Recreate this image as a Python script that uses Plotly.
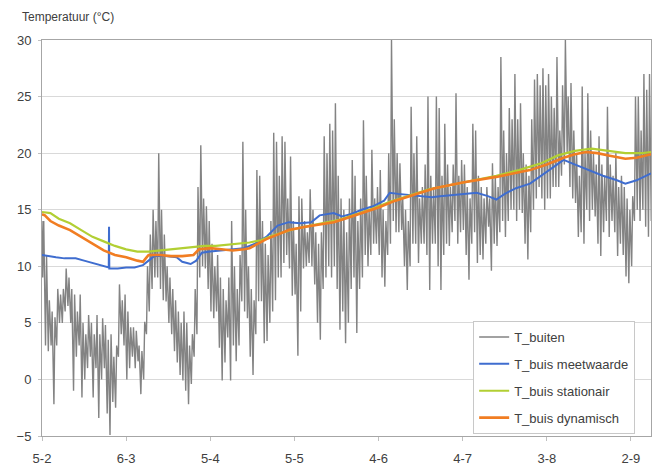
import pandas as pd
import plotly.graph_objects as go

# ---------------- data ----------------
start_date = "2008-02-05"
end_day = 217.15

# T_buiten: daily max / min (day index 0 = 5-2)
t_buiten_max = [
    14, 11, 7, 6, 5.5, 8, 7.5, 8, 9.8, 9,
    8, 7.5, 6, 7.5, 5, 4, 5.7, 5, 4, 5.7,
    4, 5.4, 4.8, 3.5, 4, 2, 3, 8.4, 7, 7.5,
    6, 4.6, 4.6, 4.3, 3, 2.5, 5.1, 10, 12.8, 15,
    14, 20, 15, 12.8, 10, 9, 8, 7, 6, 5,
    6, 5, 3, 4, 8, 17, 20.7, 16, 15.3, 14,
    12, 10, 11, 9, 8, 7, 9, 14, 10, 8,
    11, 21, 15, 10, 8, 7, 18.5, 18, 14, 12,
    11, 14, 21.8, 21, 18, 21.5, 21, 16, 19.7, 14,
    12, 16.2, 16, 14, 13, 16.8, 15, 13, 12, 13,
    21.5, 20, 22.6, 22, 24.4, 18, 16, 15, 13, 16,
    19.4, 18, 14, 16, 22.9, 18, 15, 20.3, 16, 17,
    18.5, 15, 14, 20, 30, 23, 20, 19.1, 16, 15,
    14, 24.1, 20, 21.5, 16, 17, 19, 25, 18, 17,
    25, 24, 18, 22.6, 19, 17, 19, 25.3, 18, 19.4,
    19, 17, 16, 22.6, 22, 18, 17, 16, 17, 16,
    19.1, 18, 17, 28.5, 22, 20, 24, 23, 27, 23,
    24.4, 20, 19, 18, 23, 26.5, 27, 26, 27.5, 26,
    27, 25, 24, 28.5, 22, 26, 30, 25, 26.2, 22,
    20, 18, 25.9, 20, 25.3, 22, 20, 19, 21.5, 19,
    18, 24.1, 19, 18, 20, 17, 18, 17, 16, 15,
    16.2, 25, 25, 22, 27, 25.6, 27, 24,
]
t_buiten_min = [
    9, 3, 2.5, 3, -2.2, 3, 5, 5, 6, 6.5,
    5, -1, 2, 3, -1.6, 0, 1, 2, -1.6, 1,
    -3.4, 0, 1, -3, -4.9, -2, -2.5, 2, 4, 3,
    0, 1, 2, 1, 1.6, -1.3, 0, 4, 6, 8,
    9, 9, 8, 7, 6.9, 5, 4, 2.5, 1.5, 0.4,
    -0.1, -1, -2.2, -0.4, 2, 4, 9, 10, 9.8, 8,
    6, 5.4, 6, 2.8, -0.1, 1.5, 3.7, -0.1, 3, 1.6,
    3, 6.9, 6, 5.4, 2, 0.4, 4, 6.9, 6.9, 3.2,
    3.4, 5, 6, 7, 9, 9, 10.3, 11, 9.8, 7.4,
    7.5, 2.1, 6, 9.8, 10, 10.3, 10, 8.4, 5, 3.5,
    8, 9, 10, 9, 10, 8, 4.4, 6, 3.2, 5,
    8, 9, 4.1, 8, 9, 11, 10, 11, 12, 12,
    11, 9, 8.2, 11, 12, 14, 13, 13, 13.2, 10,
    7.9, 10, 12, 12, 10.3, 12, 12, 11, 7.9, 12,
    12, 10, 7.9, 11, 12, 11.8, 13, 14, 12, 13,
    13.2, 11, 8.8, 12, 13, 10.3, 11, 10.6, 12, 13.5,
    9.6, 12, 11.8, 13, 14, 12.6, 14, 15, 15, 14,
    15, 14.7, 12, 10.6, 13, 15, 16, 17, 16, 15,
    16, 16, 17, 17, 17, 18, 19, 20, 17, 16,
    15.6, 12.6, 13, 12, 15, 14, 15, 14.4, 12, 10.9,
    13, 14, 12.6, 14, 13, 10.9, 12, 11, 9.1, 8.5,
    10, 14, 15, 14, 15, 13.5, 12.6, 14,
]
min_time_of_day = 0.25
max_time_of_day = 0.62

# T_buis meetwaarde
meet_days = [0, 2, 5, 8, 12, 15, 18, 21, 23.8, 23.9, 24.0, 27, 30, 33, 36, 38, 40, 44, 48,
             50, 53, 55, 57, 60, 64, 68, 72, 76, 80, 84, 88, 92, 96, 99, 104, 107, 110, 114, 118,
             122, 124, 127, 131, 135, 139, 142, 146, 150, 155, 159, 162, 165, 169, 174, 178, 182,
             186, 189, 192, 195, 200, 205, 208, 212, 216, 217.15]
meet_vals = [11.0, 10.9, 10.8, 10.7, 10.7, 10.5, 10.3, 10.1, 9.9, 13.5, 9.8, 9.8, 9.9, 9.9, 10.1, 10.5, 10.9, 10.9, 10.8,
             10.4, 10.2, 10.5, 11.2, 11.3, 11.4, 11.5, 11.6, 12.0, 12.6, 13.6, 13.9, 13.8, 13.9, 14.5, 14.7, 14.4, 14.6, 15.0, 15.3,
             15.8, 16.5, 16.4, 16.3, 16.2, 16.1, 16.2, 16.3, 16.4, 16.5, 16.2, 15.9, 16.4, 16.9, 17.3, 18.0, 18.7,
             19.4, 19.1, 18.8, 18.5, 18.0, 17.6, 17.3, 17.6, 18.1, 18.2]

# T_buis stationair
stat_days = [0, 3, 6, 10, 14, 18, 22, 26, 30, 34, 38, 42, 46, 50, 54, 58, 62, 66, 70, 74, 78, 82, 86,
             90, 94, 100, 106, 112, 118, 124, 130, 138, 146, 154, 162, 170, 178, 184, 190, 196, 202,
             208, 214, 217.15]
stat_vals = [14.8, 14.7, 14.2, 13.8, 13.2, 12.6, 12.2, 11.8, 11.5, 11.3, 11.3, 11.4, 11.5, 11.6, 11.7, 11.8, 11.8, 11.9, 12.0, 12.1, 12.3, 12.7, 13.0,
             13.3, 13.5, 13.8, 14.1, 14.6, 15.1, 15.7, 16.2, 16.8, 17.2, 17.6, 18.0, 18.5, 19.1, 19.8, 20.2, 20.4, 20.2,
             20.0, 20.0, 20.1]

# T_buis dynamisch
dyn_days = [0, 1, 3, 6, 10, 14, 18, 22, 26, 30, 34, 36, 37, 38, 42, 46, 50, 54, 56, 60, 64, 68, 72, 74,
            77, 80, 84, 88, 94, 100, 104, 108, 114, 120, 126, 132, 140, 150, 162, 174, 180, 186, 190,
            194, 198, 202, 208, 212, 216, 217.15]
dyn_vals = [14.6, 14.5, 14.0, 13.6, 13.2, 12.6, 12.0, 11.4, 11.0, 10.8, 10.5, 10.4, 10.7, 11.0, 11.0, 10.9, 10.9, 11.0, 11.5, 11.6, 11.5, 11.4, 11.5, 11.6,
            12.0, 12.4, 12.8, 13.2, 13.5, 13.7, 13.9, 14.2, 14.7, 15.2, 15.8, 16.3, 16.9, 17.4, 17.9, 18.5, 19.0, 19.6, 19.9,
            20.1, 20.0, 19.8, 19.5, 19.6, 19.8, 19.9]

y_ticks = [-5, 0, 5, 10, 15, 20, 25, 30]

# ---------------- build ----------------
base = pd.Timestamp(start_date)


def to_time(days):
    return [base + pd.Timedelta(days=d) for d in days]


buiten_t, buiten_v = [], []
for i, (mx, mn) in enumerate(zip(t_buiten_max, t_buiten_min)):
    buiten_t += [base + pd.Timedelta(days=i + min_time_of_day), base + pd.Timedelta(days=i + max_time_of_day)]
    buiten_v += [mn, mx]
buiten_t = [base] + buiten_t
buiten_v = [t_buiten_max[0]] + buiten_v

FONT = "Liberation Sans, Arial, sans-serif"
TXT = "#404040"

fig = go.Figure()
fig.add_trace(go.Scatter(x=buiten_t, y=buiten_v, mode="lines", name="T_buiten",
                         line=dict(color="#838383", width=1.4), legendgroup="a"))
fig.add_trace(go.Scatter(x=to_time(meet_days), y=meet_vals, mode="lines", name="T_buis meetwaarde",
                         line=dict(color="#3f6dcf", width=2), legendgroup="b"))
fig.add_trace(go.Scatter(x=to_time(stat_days), y=stat_vals, mode="lines", name="T_buis stationair",
                         line=dict(color="#b2cf33", width=2.2), legendgroup="c"))
fig.add_trace(go.Scatter(x=to_time(dyn_days), y=dyn_vals, mode="lines", name="T_buis dynamisch",
                         line=dict(color="#f17d22", width=2.6), legendgroup="d"))

fig.update_layout(
    width=659, height=468,
    margin=dict(l=42, r=8, t=40, b=32, autoexpand=False),
    paper_bgcolor="white", plot_bgcolor="white",
    font=dict(family=FONT, size=13, color=TXT),
    showlegend=True,
    legend=dict(x=0.974, xanchor="right", y=0.005, yanchor="bottom",
                bgcolor="white", bordercolor="#c8c8c8", borderwidth=1,
                font=dict(family=FONT, size=13, color=TXT),
                traceorder="grouped", tracegroupgap=7),
    annotations=[dict(text="Temperatuur (°C)", xref="paper", yref="paper",
                      x=-0.036, y=1.057, xanchor="left", yanchor="middle",
                      showarrow=False, font=dict(family=FONT, size=12, color=TXT))],
)
fig.update_xaxes(
    type="date", automargin=False,
    range=[base, base + pd.Timedelta(days=end_day)],
    tick0=base, dtick=30 * 86400000, tickformat="%-d-%-m",
    showgrid=False, showline=True, linecolor="#a6a6a6", linewidth=1, mirror=True,
    ticks="outside", ticklen=4, tickcolor="#c0c0c0",
    ticklabelstandoff=6, zeroline=False,
)
fig.update_yaxes(
    range=[-5, 30], tickvals=y_ticks, automargin=False,
    showgrid=True, gridcolor="#d9d9d9", gridwidth=1,
    showline=True, linecolor="#a6a6a6", linewidth=1, mirror=True,
    ticks="outside", ticklen=3, tickcolor="#c0c0c0",
    ticklabelstandoff=4, zeroline=False,
)

fig.write_html("out.html", config={"displayModeBar": False},
               post_script="document.body.style.margin='0';document.body.style.overflow='hidden';")
